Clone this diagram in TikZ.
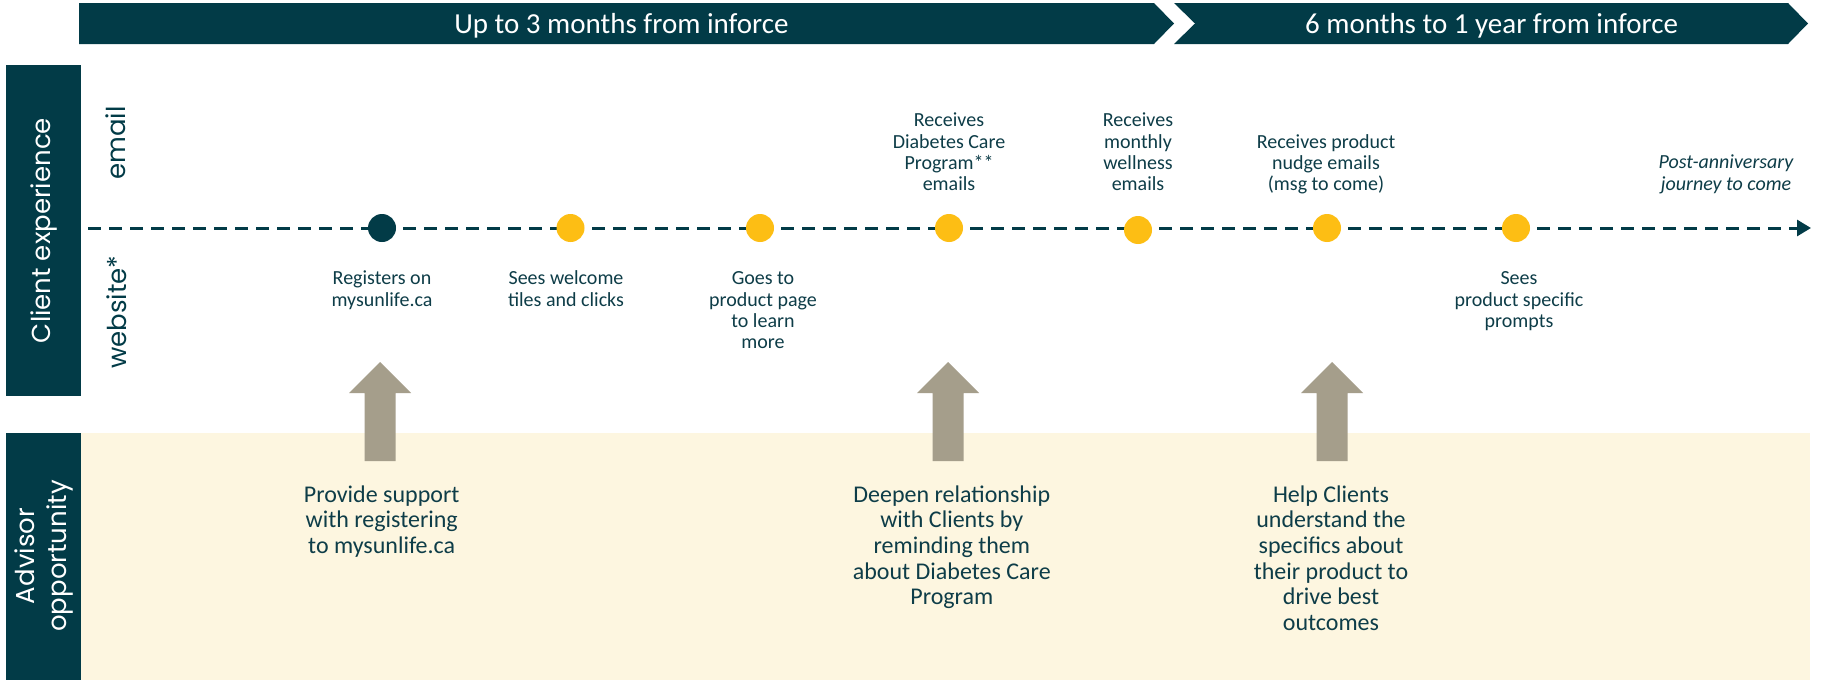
\documentclass[tikz,border=0pt]{standalone}
\usepackage{fontspec}
\setmainfont{Carlito}
\newfontfamily\geofont{Poppins}
\usetikzlibrary{arrows.meta}
\definecolor{slteal}{HTML}{023B47}
\definecolor{slyellow}{HTML}{FDBE14}
\definecolor{slgrey}{HTML}{A59E8B}
\definecolor{slcream}{HTML}{FDF6E0}
\definecolor{sltext}{HTML}{0E3D48}
\newcommand\fla{\rule{0pt}{16pt}}
\newcommand\flb{\rule{0pt}{19pt}}
\begin{document}
\begin{tikzpicture}[x=1pt,y=-1pt,
  lbl/.style={font=\fontsize{20}{21.3}\selectfont, text=sltext, align=center, inner sep=0pt, anchor=north},
  opp/.style={font=\fontsize{24}{25.6}\selectfont, text=sltext, align=center, inner sep=0pt, anchor=north},
  band/.style={font=\fontsize{29}{34}\selectfont, text=white, inner sep=0pt, anchor=base},
  side/.style={font=\geofont\fontsize{26}{32}\selectfont, text=white, rotate=90, align=center, inner sep=0pt},
  chan/.style={font=\geofont\fontsize{26}{30}\selectfont, text=slteal, rotate=90, inner sep=0pt},
  dot/.style={circle, minimum size=28pt, inner sep=0pt, fill=slyellow},
  timeline/.style={draw=slteal, line width=3pt, dash pattern=on 13pt off 8pt, -{Triangle[length=14pt,width=16pt]}},
  blockarrow/.pic={\fill[slgrey] (-15.5,99)--(-15.5,31)--(-31,31)--(0,0)--(31,31)--(15.5,31)--(15.5,99)--cycle;}
]
\useasboundingbox (0,0) rectangle (1824,680);
\fill[white] (0,0) rectangle (1824,680);
% banners
\fill[slteal] (79,3)--(1154,3)--(1174,23.5)--(1154,44)--(79,44)--cycle;
\fill[slteal] (1174,3)--(1788,3)--(1808,23.5)--(1788,44)--(1174,44)--(1195,23.5)--cycle;
\node[band] (b1) at (621.5,33.3) {Up to 3 months from inforce};
\node[band] (b2) at (1491.6,33.3) {6 months to 1 year from inforce};
% side boxes and band
\fill[slteal] (6,65) rectangle (81,396);
\fill[slteal] (6,433) rectangle (81,680);
\fill[slcream] (81,433) rectangle (1810,680);
\node[side] (cx) at (43.5,230.5) {Client experience};
\node[side] (ao) at (43.5,556) {Advisor\\opportunity};
\node[chan] (em) at (116,143) {email};
\node[chan] (ws) at (117,312) {website*};
% timeline
\coordinate (tstart) at (88,228);
\coordinate (tend) at (1811,228);
\draw[timeline] (tstart) -- (tend);
\node[dot, fill=slteal] (d1) at (382,228) {};
\node[dot] (d2) at (570.5,228) {};
\node[dot] (d3) at (760,228) {};
\node[dot] (d4) at (949,228) {};
\node[dot] (d5) at (1138,230) {};
\node[dot] (d6) at (1327,228) {};
\node[dot] (d7) at (1516,228) {};
% email labels
\node[lbl] (e4) at (949,110.5) {\fla Receives\\Diabetes Care\\Program**\\emails};
\node[lbl] (e5) at (1138,110.5) {\fla Receives\\monthly\\wellness\\emails};
\node[lbl] (e6) at (1326,132) {\fla Receives product\\nudge emails\\(msg to come)};
\node[lbl, font=\itshape\fontsize{20}{21.3}\selectfont] (e8) at (1726,152.5) {\fla Post-anniversary\\journey to come};
% website labels
\node[lbl] (w1) at (382,268.5) {\fla Registers on\\mysunlife.ca};
\node[lbl] (w2) at (566,268.5) {\fla Sees welcome\\tiles and clicks};
\node[lbl] (w3) at (763,268.5) {\fla Goes to\\product page\\to learn\\more};
\node[lbl] (w7) at (1519,268.5) {\fla Sees\\product specific\\prompts};
% block arrows
\pic (a1) at (380,362) {blockarrow};
\pic (a2) at (948,362) {blockarrow};
\pic (a3) at (1332,362) {blockarrow};
% advisor texts
\node[opp] (o1) at (381.7,483) {\flb Provide support\\with registering\\to mysunlife.ca};
\node[opp] (o2) at (951.8,483) {\flb Deepen relationship\\with Clients by\\reminding them\\about Diabetes Care\\Program};
\node[opp] (o3) at (1331,483) {\flb Help Clients\\understand the\\specifics about\\their product to\\drive best\\outcomes};
\end{tikzpicture}
\end{document}
